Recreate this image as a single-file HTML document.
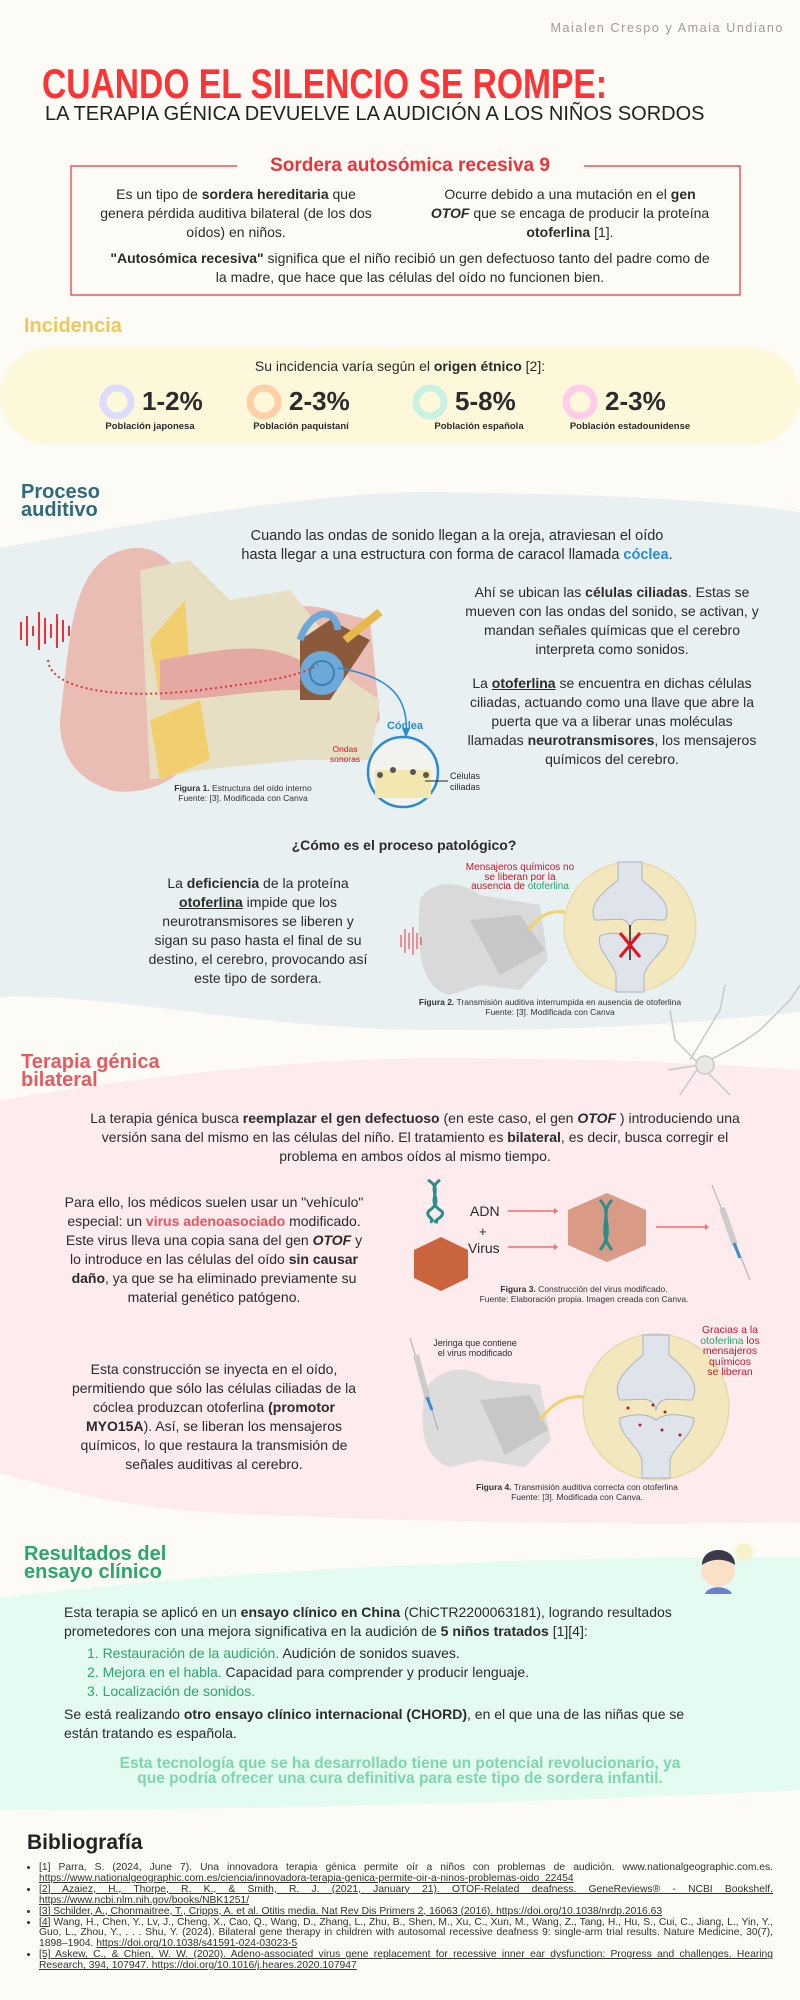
<!DOCTYPE html>
<html><head><meta charset="utf-8">
<style>
*{margin:0;padding:0;box-sizing:border-box}
body{width:800px;height:2000px;position:relative;background:#fdfbf6;font-family:"Liberation Sans",sans-serif;color:#2b2b2b;overflow:hidden}
.a{position:absolute;white-space:nowrap}
.c{text-align:center}
b{font-weight:bold}
.t14{font-size:14px;line-height:19px}
.cap{font-size:8.5px;line-height:10px;text-align:center;color:#333}
.h2{font-size:20px;font-weight:bold;line-height:18px}
u{text-decoration:underline}
</style></head><body>
<svg class="a" style="left:0;top:0" width="800" height="2000">
<rect x="0" y="348" width="800" height="96" rx="48" fill="#fdf8da"/>
<path d="M0,548 C180,515 330,492 430,492 C600,494 720,500 800,512 L800,1012 C700,1022 600,1031 420,1030 C250,1028 100,992 0,997 Z" fill="#e8f0f2"/>
<path d="M0,1100 C150,1075 300,1060 420,1058 C600,1058 720,1064 800,1070 L800,1522 C600,1526 320,1520 180,1510 C100,1502 40,1484 0,1473 Z" fill="#fdebee"/>
<path d="M0,1598 C200,1572 500,1556 800,1557 L800,1790 C600,1800 300,1810 0,1810 Z" fill="#e4fbf1"/>
<path d="M237,166 L71,166 L71,295 L740,295 L740,166 L584,166" fill="none" stroke="#e8323c" stroke-width="1.2"/>
<g fill="none" stroke-width="7">
<circle cx="117" cy="402" r="14" stroke="#dcdcff"/>
<circle cx="264" cy="402" r="14" stroke="#ffcfa8"/>
<circle cx="430" cy="402" r="14" stroke="#c9f2e3"/>
<circle cx="580" cy="402" r="14" stroke="#ffcdea"/>
</g>
<g>
<path d="M60,720 C70,640 70,580 110,555 C150,535 180,560 190,600 L210,640 C260,610 300,600 330,610 L370,620 L380,720 L340,760 L290,720 L220,730 L190,760 C170,790 130,795 110,790 C80,780 60,760 60,720 Z" fill="#e9bcb4"/>
<path d="M140,570 L190,560 L230,600 L290,590 L330,640 L350,680 L380,700 L370,760 L300,760 L200,770 L150,780 Z" fill="#e7dfc4"/>
<path d="M150,640 L185,600 L190,670 L160,700 Z M150,720 L200,700 L210,760 L160,780 Z" fill="#f2cf6e"/>
<path d="M160,660 C220,650 260,640 300,660 L300,690 C250,690 210,700 160,700 Z" fill="#e3a9a2"/>
<path d="M300,640 L330,620 L370,640 L330,700 L300,700 Z" fill="#8b5a3c"/>
<circle cx="322" cy="673" r="22" fill="#6da9d8"/>
<circle cx="322" cy="673" r="12" fill="none" stroke="#3d80b8" stroke-width="2"/>
<path d="M300,640 C310,610 335,605 338,630" fill="none" stroke="#6da9d8" stroke-width="7"/>
<path d="M345,640 L380,612" stroke="#e8b84a" stroke-width="8"/>
<path d="M48,660 C50,690 120,700 200,690 S300,675 318,665" fill="none" stroke="#e8323c" stroke-width="2" stroke-dasharray="2 3"/>
<path d="M338,668 C380,675 410,690 406,735" fill="none" stroke="#2a8ad8" stroke-width="1.5"/>
<path d="M402,728 L406,738 L410,728 Z" fill="#2a8ad8"/>
<g stroke="#e8323c" stroke-width="2">
<line x1="21" y1="622" x2="21" y2="640"/><line x1="27" y1="616" x2="27" y2="646"/><line x1="33" y1="626" x2="33" y2="636"/><line x1="39" y1="612" x2="39" y2="650"/><line x1="45" y1="618" x2="45" y2="644"/><line x1="51" y1="624" x2="51" y2="638"/><line x1="57" y1="614" x2="57" y2="648"/><line x1="63" y1="620" x2="63" y2="642"/><line x1="69" y1="626" x2="69" y2="636"/>
</g>
<circle cx="403" cy="772" r="35" fill="#f2f2ee" stroke="#2a8ad8" stroke-width="2.5"/>
<rect x="375" y="770" width="56" height="28" fill="#f3e7b0"/>
<g fill="#555"><circle cx="380" cy="775" r="3"/><circle cx="393" cy="770" r="3"/><circle cx="413" cy="772" r="3"/><circle cx="426" cy="775" r="3"/></g>
<line x1="425" y1="781" x2="448" y2="781" stroke="#222" stroke-width="1"/>
</g>
<path d="M420,900 C430,880 460,880 480,895 L540,905 L548,960 L520,990 L480,985 L450,995 C425,990 415,960 420,900 Z" fill="#d9d9d9"/>
<path d="M470,920 L520,915 L545,950 L500,975 Z" fill="#c7c7c7"/>
<path d="M528,930 C540,915 550,910 565,912" fill="none" stroke="#f0d36a" stroke-width="3"/>
<g stroke="#e8323c" stroke-width="1"><line x1="401" y1="935" x2="401" y2="947"/><line x1="405" y1="929" x2="405" y2="953"/><line x1="409" y1="933" x2="409" y2="949"/><line x1="413" y1="927" x2="413" y2="955"/><line x1="417" y1="933" x2="417" y2="949"/><line x1="421" y1="937" x2="421" y2="945"/></g>
<ellipse cx="630" cy="927" rx="66" ry="65" fill="#f2e7bd" stroke="#e2d69a"/>
<path d="M618,862 L642,862 L642,880 C660,895 672,905 665,920 C640,920 632,915 630,930 C628,915 620,920 595,920 C588,905 600,895 618,880 Z" fill="#dfe3ea" stroke="#aab3c5"/>
<path d="M600,936 C615,930 625,935 630,940 C635,935 645,930 668,936 C668,950 648,960 644,975 L644,992 L616,992 L616,975 C612,960 596,950 600,936 Z" fill="#dfe3ea" stroke="#aab3c5"/>
<line x1="630" y1="925" x2="630" y2="960" stroke="#222" stroke-width="1.5"/>
<path d="M620,933 L640,957 M640,933 L620,957" stroke="#e8101a" stroke-width="3"/>
<g fill="none" stroke="#c8c8c8" stroke-width="1.5">
<path d="M700,1065 C720,1055 740,1045 760,1030 L790,1000 L800,985"/>
<path d="M700,1065 L675,1040 L670,1010 M700,1065 L680,1095 M705,1070 L730,1095 M690,1060 L720,1010 L725,985 M700,1065 L668,1070"/>
<circle cx="705" cy="1065" r="9" fill="#e8e8e8"/>
</g>
<g stroke="#2a8f8a" stroke-width="3" fill="none"><path d="M428,1180 C445,1190 425,1200 440,1210 C450,1216 428,1222 438,1222"/><path d="M440,1180 C425,1190 445,1200 430,1210 C422,1216 438,1220 430,1222"/></g>
<g stroke="#f07070" stroke-width="1.5"><line x1="508" y1="1211" x2="554" y2="1211"/><line x1="508" y1="1247" x2="554" y2="1247"/><line x1="656" y1="1227" x2="705" y2="1227"/></g>
<g fill="#f07070"><path d="M554,1208 L558,1211 L554,1214Z M554,1244 L558,1247 L554,1250Z M705,1224 L709,1227 L705,1230Z"/></g>
<polygon points="441,1237 468,1250 468,1278 441,1291 414,1278 414,1250" fill="#c9643c"/>
<polygon points="607,1193 646,1210 646,1245 607,1262 568,1245 568,1210" fill="#d99a86"/>
<g stroke="#2a8f8a" stroke-width="3" fill="none"><path d="M600,1200 C615,1215 595,1230 612,1250"/><path d="M612,1200 C597,1215 617,1230 600,1250"/></g>
<line x1="712" y1="1185" x2="750" y2="1280" stroke="#aaa" stroke-width="1"/>
<line x1="722" y1="1208" x2="735" y2="1245" stroke="#ccc" stroke-width="6"/>
<line x1="734" y1="1243" x2="740" y2="1258" stroke="#3a8ad8" stroke-width="3"/>
<path d="M425,1390 C440,1365 470,1365 490,1380 L540,1385 L551,1440 L525,1467 L480,1460 L450,1467 C425,1460 418,1430 425,1390 Z" fill="#dcdcdc"/>
<path d="M480,1400 L530,1395 L548,1430 L505,1455 Z" fill="#c7c7c7"/>
<path d="M540,1420 C555,1400 570,1395 585,1397" fill="none" stroke="#f0d36a" stroke-width="3"/>
<line x1="410" y1="1338" x2="438" y2="1430" stroke="#aaa" stroke-width="1"/>
<line x1="416" y1="1355" x2="428" y2="1400" stroke="#ccc" stroke-width="6"/>
<line x1="427" y1="1397" x2="432" y2="1410" stroke="#3a8ad8" stroke-width="3"/>
<ellipse cx="656" cy="1407" rx="73" ry="73" fill="#f2e7bd" stroke="#e2d69a"/>
<path d="M643,1335 L669,1335 L669,1355 C690,1372 700,1385 692,1400 C668,1400 660,1395 656,1410 C652,1395 644,1400 620,1400 C612,1385 622,1372 643,1355 Z" fill="#dfe3ea" stroke="#aab3c5"/>
<path d="M620,1418 C640,1412 650,1415 656,1420 C662,1415 672,1412 694,1418 C694,1435 674,1445 670,1460 L670,1478 L642,1478 L642,1460 C638,1445 618,1435 620,1418 Z" fill="#dfe3ea" stroke="#aab3c5"/>
<g fill="#b01c2a"><circle cx="628" cy="1408" r="1.5"/><circle cx="653" cy="1405" r="1.5"/><circle cx="665" cy="1412" r="1.5"/><circle cx="640" cy="1425" r="1.5"/><circle cx="662" cy="1430" r="1.5"/><circle cx="680" cy="1435" r="1.5"/></g>
<circle cx="718" cy="1570" r="17" fill="#fbe0c8"/>
<path d="M702,1565 C702,1545 735,1545 735,1565 C725,1558 712,1558 702,1565Z" fill="#3a3a4a"/>
<path d="M705,1594 C708,1585 728,1585 732,1594Z" fill="#6b7fd0"/>
<circle cx="744" cy="1552" r="9" fill="#f5f3cc"/>
</svg>

<div class="a" style="right:16px;top:21px;font-size:12.5px;color:#a19b9b;letter-spacing:1.6px">Maialen Crespo y Amaia Undiano</div>
<div class="a" style="left:42px;top:62px;font-size:42px;font-weight:bold;color:#fd3336;transform:scaleX(0.8);transform-origin:left top;line-height:44px">CUANDO EL SILENCIO SE ROMPE:</div>
<div class="a" style="left:45px;top:103px;font-size:20px;color:#222;line-height:22px">LA TERAPIA GÉNICA DEVUELVE LA AUDICIÓN A LOS NIÑOS SORDOS</div>

<div class="a c" style="left:210px;width:400px;top:154px;font-size:19px;font-weight:bold;color:#ef3139;line-height:24px">Sordera autosómica recesiva 9</div>
<div class="a c t14" style="left:86px;width:300px;top:185px">Es un tipo de <b>sordera hereditaria</b> que<br>genera pérdida auditiva bilateral (de los dos<br>oídos) en niños.</div>
<div class="a c t14" style="left:420px;width:300px;top:185px">Ocurre debido a una mutación en el <b>gen</b><br><b><i>OTOF</i></b> que se encaga de producir la proteína<br><b>otoferlina</b> [1].</div>
<div class="a c t14" style="left:80px;width:660px;top:249px"><b>"Autosómica recesiva"</b> significa que el niño recibió un gen defectuoso tanto del padre como de<br>la madre, que hace que las células del oído no funcionen bien.</div>

<div class="a h2" style="left:24px;top:317px;color:#ecc95a">Incidencia</div>
<div class="a c t14" style="left:200px;width:400px;top:357px">Su incidencia varía según el <b>origen étnico</b> [2]:</div>
<div class="a" style="left:142px;top:386px;font-size:26px;font-weight:bold;line-height:30px">1-2%</div>
<div class="a" style="left:289px;top:386px;font-size:26px;font-weight:bold;line-height:30px">2-3%</div>
<div class="a" style="left:455px;top:386px;font-size:26px;font-weight:bold;line-height:30px">5-8%</div>
<div class="a" style="left:605px;top:386px;font-size:26px;font-weight:bold;line-height:30px">2-3%</div>
<div class="a c" style="left:90px;width:120px;top:421px;font-size:9.5px;font-weight:bold">Población japonesa</div>
<div class="a c" style="left:241px;width:120px;top:421px;font-size:9.5px;font-weight:bold">Población paquistaní</div>
<div class="a c" style="left:419px;width:120px;top:421px;font-size:9.5px;font-weight:bold">Población española</div>
<div class="a c" style="left:560px;width:140px;top:421px;font-size:9.5px;font-weight:bold">Población estadounidense</div>

<div class="a h2" style="left:21px;top:483px;color:#2d6b7c;line-height:18px">Proceso<br>auditivo</div>
<div class="a c" style="left:207px;width:500px;top:527px;font-size:14.5px;line-height:19px">Cuando las ondas de sonido llegan a la oreja, atraviesan el oído<br>hasta llegar a una estructura con forma de caracol llamada <b style="color:#2a8ad8">cóclea</b>.</div>
<div class="a c t14" style="left:452px;width:320px;top:583px">Ahí se ubican las <b>células ciliadas</b>. Estas se<br>mueven con las ondas del sonido, se activan, y<br>mandan señales químicas que el cerebro<br>interpreta como sonidos.</div>
<div class="a c t14" style="left:452px;width:320px;top:674px">La <b><u>otoferlina</u></b> se encuentra en dichas células<br>ciliadas, actuando como una llave que abre la<br>puerta que va a liberar unas moléculas<br>llamadas <b>neurotransmisores</b>, los mensajeros<br>químicos del cerebro.</div>
<div class="a c" style="left:370px;width:70px;top:720px;font-size:11px;font-weight:bold;color:#2a8ad8">Cóclea</div>
<div class="a c" style="left:320px;width:50px;top:744px;font-size:8.5px;line-height:10px;color:#e8101a">Ondas<br>sonoras</div>
<div class="a" style="left:450px;top:771px;font-size:9px;line-height:11px;text-align:center">Células<br>ciliadas</div>
<div class="a cap" style="left:143px;width:200px;top:783px"><b>Figura 1.</b> Estructura del oído interno<br>Fuente: [3]. Modificada con Canva</div>

<div class="a c" style="left:254px;width:300px;top:837px;font-size:14px;font-weight:bold">¿Cómo es el proceso patológico?</div>
<div class="a c t14" style="left:128px;width:260px;top:874px">La <b>deficiencia</b> de la proteína<br><b><u>otoferlina</u></b> impide que los<br>neurotransmisores se liberen y<br>sigan su paso hasta el final de su<br>destino, el cerebro, provocando así<br>este tipo de sordera.</div>
<div class="a c" style="left:450px;width:140px;top:863px;font-size:10px;line-height:9.5px;color:#c21a2a">Mensajeros químicos no<br>se liberan por la<br>ausencia de <span style="color:#2aa76a">otoferlina</span></div>
<div class="a cap" style="left:390px;width:320px;top:997px"><b>Figura 2.</b> Transmisión auditiva interrumpida en ausencia de otoferlina<br>Fuente: [3]. Modificada con Canva</div>

<div class="a h2" style="left:21px;top:1053px;color:#e85a5f">Terapia génica<br>bilateral</div>
<div class="a c t14" style="left:60px;width:710px;top:1109px">La terapia génica busca <b>reemplazar el gen defectuoso</b> (en este caso, el gen <b><i>OTOF</i></b> ) introduciendo una<br>versión sana del mismo en las células del niño. El tratamiento es <b>bilateral</b>, es decir, busca corregir el<br>problema en ambos oídos al mismo tiempo.</div>
<div class="a c t14" style="left:54px;width:320px;top:1193px">Para ello, los médicos suelen usar un "vehículo"<br>especial: un <b style="color:#f0505a">virus adenoasociado</b> modificado.<br>Este virus lleva una copia sana del gen <b><i>OTOF</i></b> y<br>lo introduce en las células del oído <b>sin causar<br>daño</b>, ya que se ha eliminado previamente su<br>material genético patógeno.</div>
<div class="a" style="left:470px;top:1203px;font-size:14px">ADN</div>
<div class="a" style="left:479px;top:1224px;font-size:13px">+</div>
<div class="a" style="left:468px;top:1240px;font-size:14px">Virus</div>
<div class="a cap" style="left:454px;width:260px;top:1284px"><b>Figura 3.</b> Construcción del virus modificado.<br>Fuente: Elaboración propia. Imagen creada con Canva.</div>
<div class="a c t14" style="left:54px;width:320px;top:1360px">Esta construcción se inyecta en el oído,<br>permitiendo que sólo las células ciliadas de la<br>cóclea produzcan otoferlina <b>(promotor<br>MYO15A</b>). Así, se liberan los mensajeros<br>químicos, lo que restaura la transmisión de<br>señales auditivas al cerebro.</div>
<div class="a c" style="left:420px;width:110px;top:1338px;font-size:9px;line-height:10px">Jeringa que contiene<br>el virus modificado</div>
<div class="a c" style="left:680px;width:100px;top:1325px;font-size:10.5px;line-height:10.5px;color:#c21a2a">Gracias a la<br><span style="color:#2aa76a">otoferlina</span> los<br>mensajeros<br>químicos<br>se liberan</div>
<div class="a cap" style="left:437px;width:280px;top:1482px"><b>Figura 4.</b> Transmisión auditiva correcta con otoferlina<br>Fuente: [3]. Modificada con Canva.</div>

<div class="a h2" style="left:24px;top:1545px;color:#2aa76a">Resultados del<br>ensayo clínico</div>
<div class="a t14" style="left:64px;top:1603px">Esta terapia se aplicó en un <b>ensayo clínico en China</b> (ChiCTR2200063181), logrando resultados<br>prometedores con una mejora significativa en la audición de <b>5 niños tratados</b> [1][4]:</div>
<div class="a t14" style="left:87px;top:1644px"><span style="color:#2aa76a">1. Restauración de la audición.</span> Audición de sonidos suaves.<br><span style="color:#2aa76a">2. Mejora en el habla.</span> Capacidad para comprender y producir lenguaje.<br><span style="color:#2aa76a">3. Localización de sonidos.</span></div>
<div class="a t14" style="left:64px;top:1705px">Se está realizando <b>otro ensayo clínico internacional (CHORD)</b>, en el que una de las niñas que se<br>están tratando es española.</div>
<div class="a c" style="left:60px;width:680px;top:1757px;font-size:15.5px;line-height:14.5px;font-weight:bold;color:#7ed6ae">Esta tecnología que se ha desarrollado tiene un potencial revolucionario, ya<br>que podría ofrecer una cura definitiva para este tipo de sordera infantil.</div>

<div class="a" style="left:27px;top:1831px;font-size:21px;font-weight:bold;color:#222">Bibliografía</div>
<ul style="position:absolute;left:39px;top:1863px;width:734px;font-size:10.3px;line-height:10.9px;text-align:justify;color:#333;list-style:disc">
<li>[1] Parra, S. (2024, June 7). Una innovadora terapia génica permite oír a niños con problemas de audición. www.nationalgeographic.com.es. <u>https://www.nationalgeographic.com.es/ciencia/innovadora-terapia-genica-permite-oir-a-ninos-problemas-oido_22454</u></li>
<li><u>[2] Azaiez, H., Thorpe, R. K., &amp; Smith, R. J. (2021, January 21). OTOF-Related deafness. GeneReviews® - NCBI Bookshelf. https://www.ncbi.nlm.nih.gov/books/NBK1251/</u></li>
<li><u>[3] Schilder, A., Chonmaitree, T., Cripps, A. et al. Otitis media. Nat Rev Dis Primers 2, 16063 (2016). https://doi.org/10.1038/nrdp.2016.63</u></li>
<li><u>[4]</u> Wang, H., Chen, Y., Lv, J., Cheng, X., Cao, Q., Wang, D., Zhang, L., Zhu, B., Shen, M., Xu, C., Xun, M., Wang, Z., Tang, H., Hu, S., Cui, C., Jiang, L., Yin, Y., Guo, L., Zhou, Y., . . . Shu, Y. (2024). Bilateral gene therapy in children with autosomal recessive deafness 9: single-arm trial results. Nature Medicine, 30(7), 1898–1904. <u>https://doi.org/10.1038/s41591-024-03023-5</u></li>
<li><u>[5] Askew, C., &amp; Chien, W. W. (2020). Adeno-associated virus gene replacement for recessive inner ear dysfunction: Progress and challenges. Hearing Research, 394, 107947. https://doi.org/10.1016/j.heares.2020.107947</u></li>
</ul>
</body></html>
